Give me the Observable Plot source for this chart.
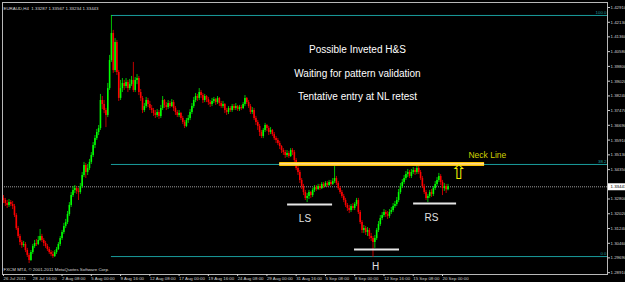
<!DOCTYPE html>
<html><head><meta charset="utf-8">
<script src="https://cdn.jsdelivr.net/npm/d3@7"></script>
<script src="https://cdn.jsdelivr.net/npm/@observablehq/plot@0.6"></script>
<style>html,body{margin:0;padding:0;background:#000;overflow:hidden}#chart svg{display:block}</style>
</head><body><div id="chart"></div>
<script>
// ---- data ----
const symbol = "EURAUD,H4";
const lastBar = {open: 1.33287, high: 1.33567, low: 1.33234, close: 1.33443};
const firstOpen = 1.3283;
const closes = [
1.3272,1.3256,1.3246,1.3261,1.3251,1.3240,1.3193,1.3124,1.3082,1.3050,
1.3034,1.3040,1.3008,1.2982,1.2955,1.2997,1.3029,1.3045,1.3040,1.3061,
1.3082,1.3061,1.3045,1.3029,1.3013,1.2997,1.2987,1.2976,1.2997,1.3013,
1.3040,1.3071,1.3103,1.3135,1.3156,1.3198,1.3246,1.3298,1.3325,1.3335,
1.3320,1.3314,1.3346,1.3404,1.3457,1.3420,1.3441,1.3473,1.3510,1.3562,
1.3599,1.3631,1.3652,1.3800,1.3779,1.3747,1.3721,1.3863,1.4011,1.4154,
1.3958,1.4106,1.3948,1.3811,1.3863,1.3890,1.3874,1.3895,1.3863,1.3884,
1.3906,1.3853,1.3906,1.3916,1.3842,1.3811,1.3747,1.3768,1.3800,1.3779,
1.3758,1.3747,1.3731,1.3721,1.3737,1.3716,1.3758,1.3800,1.3774,1.3763,
1.3784,1.3768,1.3789,1.3758,1.3737,1.3721,1.3731,1.3705,1.3684,1.3663,
1.3694,1.3705,1.3737,1.3768,1.3800,1.3821,1.3811,1.3842,1.3826,1.3800,
1.3821,1.3805,1.3789,1.3779,1.3795,1.3805,1.3789,1.3811,1.3784,1.3768,
1.3779,1.3747,1.3737,1.3758,1.3747,1.3768,1.3758,1.3768,1.3752,1.3763,
1.3758,1.3779,1.3811,1.3789,1.3768,1.3737,1.3747,1.3705,1.3684,1.3663,
1.3631,1.3610,1.3642,1.3668,1.3652,1.3631,1.3642,1.3620,1.3599,1.3589,
1.3573,1.3557,1.3536,1.3525,1.3510,1.3520,1.3504,1.3536,1.3525,1.3483,
1.3441,1.3420,1.3378,1.3346,1.3314,1.3283,1.3293,1.3314,1.3298,1.3325,
1.3341,1.3330,1.3346,1.3335,1.3357,1.3346,1.3362,1.3351,1.3367,1.3357,
1.3372,1.3388,1.3362,1.3335,1.3314,1.3293,1.3272,1.3246,1.3230,1.3219,
1.3240,1.3230,1.3251,1.3272,1.3209,1.3156,1.3114,1.3124,1.3103,1.3114,
1.3082,1.3071,1.3050,1.3071,1.3114,1.3145,1.3177,1.3193,1.3209,1.3198,
1.3188,1.3209,1.3219,1.3240,1.3251,1.3272,1.3314,1.3346,1.3367,1.3388,
1.3409,1.3420,1.3399,1.3420,1.3430,1.3420,1.3441,1.3420,1.3388,1.3346,
1.3314,1.3283,1.3293,1.3314,1.3304,1.3335,1.3357,1.3378,1.3399,1.3367,
1.3335,1.3346,1.3329,1.3344];
const highs = [
1.3298,1.3283,1.3272,1.3277,1.3272,1.3267,1.3251,1.3203,1.3135,1.3093,
1.3061,1.3056,1.3050,1.3019,1.2992,1.3008,1.3040,1.3061,1.3066,1.3082,
1.3119,1.3093,1.3071,1.3056,1.3040,1.3024,1.3008,1.3003,1.3008,1.3024,
1.3050,1.3082,1.3114,1.3151,1.3172,1.3214,1.3261,1.3314,1.3346,1.3351,
1.3346,1.3335,1.3362,1.3420,1.3473,1.3467,1.3462,1.3489,1.3525,1.3578,
1.3615,1.3647,1.3668,1.3832,1.3821,1.3800,1.3758,1.3890,1.4038,1.4249,
1.4170,1.4127,1.4117,1.3958,1.3906,1.3916,1.3906,1.3916,1.3906,1.3911,
1.3927,1.4001,1.3921,1.3937,1.3927,1.3858,1.3821,1.3784,1.3816,1.3811,
1.3795,1.3774,1.3758,1.3747,1.3752,1.3747,1.3774,1.3821,1.3805,1.3789,
1.3800,1.3795,1.3805,1.3800,1.3768,1.3747,1.3747,1.3737,1.3716,1.3694,
1.3705,1.3721,1.3752,1.3784,1.3816,1.3837,1.3832,1.3863,1.3853,1.3837,
1.3832,1.3826,1.3816,1.3800,1.3811,1.3816,1.3811,1.3821,1.3816,1.3795,
1.3795,1.3784,1.3758,1.3768,1.3768,1.3779,1.3779,1.3784,1.3774,1.3774,
1.3774,1.3789,1.3826,1.3816,1.3800,1.3779,1.3763,1.3758,1.3716,1.3694,
1.3673,1.3642,1.3652,1.3679,1.3673,1.3663,1.3657,1.3647,1.3631,1.3610,
1.3599,1.3584,1.3562,1.3546,1.3536,1.3536,1.3531,1.3546,1.3546,1.3536,
1.3494,1.3452,1.3430,1.3388,1.3357,1.3325,1.3309,1.3325,1.3320,1.3335,
1.3351,1.3351,1.3357,1.3357,1.3367,1.3367,1.3372,1.3372,1.3378,1.3378,
1.3388,1.3457,1.3399,1.3372,1.3346,1.3325,1.3304,1.3283,1.3256,1.3246,
1.3251,1.3256,1.3261,1.3283,1.3283,1.3219,1.3166,1.3140,1.3135,1.3129,
1.3124,1.3098,1.3082,1.3087,1.3124,1.3161,1.3193,1.3209,1.3224,1.3219,
1.3214,1.3224,1.3235,1.3256,1.3267,1.3288,1.3330,1.3362,1.3383,1.3404,
1.3425,1.3436,1.3430,1.3436,1.3446,1.3441,1.3467,1.3452,1.3430,1.3399,
1.3357,1.3325,1.3304,1.3325,1.3330,1.3346,1.3372,1.3393,1.3415,1.3409,
1.3378,1.3362,1.3357,1.3357];
const lows = [
1.3256,1.3240,1.3230,1.3235,1.3240,1.3224,1.3182,1.3114,1.3071,1.3034,
1.3019,1.3024,1.2997,1.2971,1.2939,1.2950,1.2987,1.3019,1.3029,1.3034,
1.3056,1.3050,1.3029,1.3019,1.3003,1.2987,1.2976,1.2966,1.2971,1.2987,
1.3008,1.3029,1.3061,1.3093,1.3124,1.3145,1.3188,1.3235,1.3288,1.3309,
1.3304,1.3272,1.3304,1.3335,1.3393,1.3388,1.3404,1.3430,1.3462,1.3499,
1.3546,1.3589,1.3615,1.3642,1.3752,1.3731,1.3657,1.3710,1.3853,1.4001,
1.3943,1.3948,1.3932,1.3795,1.3800,1.3842,1.3853,1.3863,1.3842,1.3853,
1.3874,1.3842,1.3842,1.3884,1.3826,1.3795,1.3731,1.3737,1.3758,1.3763,
1.3747,1.3731,1.3716,1.3705,1.3710,1.3700,1.3705,1.3747,1.3758,1.3747,
1.3752,1.3758,1.3763,1.3742,1.3721,1.3710,1.3710,1.3694,1.3673,1.3652,
1.3657,1.3679,1.3694,1.3726,1.3758,1.3789,1.3795,1.3800,1.3811,1.3784,
1.3789,1.3789,1.3774,1.3763,1.3768,1.3784,1.3774,1.3779,1.3768,1.3758,
1.3758,1.3731,1.3721,1.3726,1.3737,1.3737,1.3747,1.3747,1.3742,1.3742,
1.3747,1.3752,1.3768,1.3779,1.3758,1.3726,1.3726,1.3694,1.3668,1.3642,
1.3610,1.3599,1.3599,1.3631,1.3636,1.3615,1.3620,1.3610,1.3589,1.3573,
1.3562,1.3541,1.3520,1.3510,1.3494,1.3499,1.3494,1.3499,1.3510,1.3473,
1.3430,1.3404,1.3362,1.3330,1.3298,1.3272,1.3261,1.3277,1.3283,1.3288,
1.3314,1.3320,1.3325,1.3325,1.3330,1.3335,1.3341,1.3341,1.3346,1.3346,
1.3351,1.3362,1.3351,1.3325,1.3304,1.3283,1.3261,1.3235,1.3214,1.3203,
1.3209,1.3219,1.3219,1.3240,1.3198,1.3145,1.3098,1.3098,1.3087,1.3082,
1.3066,1.3056,1.2971,1.3019,1.3061,1.3103,1.3135,1.3166,1.3182,1.3182,
1.3172,1.3177,1.3198,1.3209,1.3230,1.3240,1.3261,1.3304,1.3335,1.3357,
1.3378,1.3393,1.3388,1.3388,1.3409,1.3404,1.3409,1.3409,1.3378,1.3335,
1.3304,1.3272,1.3261,1.3283,1.3288,1.3293,1.3325,1.3346,1.3367,1.3351,
1.3298,1.3320,1.3309,1.3323];
const timeLabels = ["26 Jul 2011","28 Jul 16:00","2 Aug 08:00","5 Aug 00:00","9 Aug 16:00","12 Aug 08:00","17 Aug 00:00","19 Aug 16:00","24 Aug 08:00","29 Aug 00:00","31 Aug 16:00","5 Sep 08:00","8 Sep 00:00","12 Sep 16:00","15 Sep 08:00","20 Sep 00:00"];
const barsPerLabel = 16;
const priceTicks = [1.42910,1.42130,1.41360,1.40580,1.39800,1.39020,1.38240,1.37470,1.36690,1.35910,1.35130,1.34350,1.32800,1.32020,1.31240,1.30460,1.29690,1.28910];
const fibHigh = 1.4249, fibLow = 1.2976, fibStartBar = 59;
const fibLevels = [0, 38.2, 100];
const neckline = {price: 1.3465, from: 151, to: 263};
const shoulderNames = ["LS", "H", "RS"];
const shoulderPrices = [1.3251, 1.3013, 1.3256];
const shoulderFrom = [155.3, 191.9, 224.2];
const shoulderTo = [179.9, 216.5, 247.7];
const shoulderLabelBar = [164.8, 203.4, 234];
const shoulderLabelPrice = [1.3177, 1.2924, 1.3182];
const neckLabel = {text: "Neck Line", bar: 254.2, price: 1.3510};
const arrowMark = {bar: 248.8, price: 1.3418};
const titleLines = ["Possible Inveted H&S", "Waiting for pattern validation", "Tentative entry at NL retest"];
const titlePrices = [1.4069, 1.3943, 1.3821];
const titleBar = 193.5;
const footer = "FXCM MT4, \u00a9 2001-2011 MetaQuotes Software Corp.";

// ---- build ----
const candles = closes.map((c, i) => ({i, open: i ? closes[i - 1] : firstOpen, close: c, high: highs[i], low: lows[i]}));
candles[candles.length - 1].open = lastBar.open;
candles[candles.length - 1].close = lastBar.close;
const up = "#00ff00", down = "#ff0000", teal = "#1a9c9c";
const xDomain = [-0.55, 330.2];
const fibPrice = l => fibLow + (fibHigh - fibLow) * l / 100;
const shoulders = shoulderNames.map((n, k) => ({name: n, price: shoulderPrices[k], from: shoulderFrom[k], to: shoulderTo[k], lb: shoulderLabelBar[k], lp: shoulderLabelPrice[k]}));
const titles = titleLines.map((t, k) => ({t, p: titlePrices[k]}));
const tickIdx = timeLabels.map((_, k) => k * barsPerLabel);
const tickMap = new Map(tickIdx.map((v, k) => [v, timeLabels[k]]));
const header = `${symbol}  ${lastBar.open.toFixed(5)} ${lastBar.high.toFixed(5)} ${lastBar.low.toFixed(5)} ${lastBar.close.toFixed(5)}`;
const col = d => d.close >= d.open ? up : down;
const small = 4.4;

const chart = Plot.plot({
  width: 625, height: 282,
  marginLeft: 2, marginRight: 18, marginTop: 2, marginBottom: 8,
  style: {background: "#000", color: "#d0d0d0", fontFamily: "'Liberation Sans', Arial, sans-serif"},
  x: {domain: xDomain},
  y: {domain: [1.28813, 1.43174]},
  color: {type: "identity"},
  marks: [
    Plot.ruleY(fibLevels, {y: fibPrice, x1: fibStartBar, x2: xDomain[1], stroke: teal, strokeWidth: 1}),
    Plot.text(fibLevels, {x: xDomain[1], y: fibPrice, text: l => l.toFixed(1), textAnchor: "end", dx: -1, dy: -3, fontSize: small, fill: teal}),
    Plot.ruleY([lastBar.close], {stroke: "#9a9a9a", strokeDasharray: "1,1"}),
    Plot.ruleX(candles, {x: "i", y1: "low", y2: "high", stroke: col, strokeWidth: 1, strokeOpacity: 0.75}),
    Plot.ruleX(candles, {x: "i", y1: "open", y2: "close", stroke: col, strokeWidth: 1.6}),
    Plot.ruleY([neckline], {y: "price", x1: "from", x2: "to", stroke: "#ffc400", strokeWidth: 4}),
    Plot.ruleY([neckline], {y: "price", x1: "from", x2: "to", stroke: "#ffe0b0", strokeWidth: 1.3}),
    Plot.ruleY(shoulders, {y: "price", x1: "from", x2: "to", stroke: "#e6e6e6", strokeWidth: 2}),
    Plot.text(shoulders, {x: "lb", y: "lp", text: "name", fill: "#e0e0e0", fontSize: 10}),
    Plot.text([neckLabel], {x: "bar", y: "price", text: "text", fill: "#d2d200", fontSize: 8.5, textAnchor: "start"}),
    Plot.text([arrowMark], {x: "bar", y: "price", text: () => "\u21e7", fill: "#f0f000", fontSize: 20, fontFamily: "DejaVu Sans"}),
    Plot.text(titles, {x: titleBar, y: "p", text: "t", fill: "#ffffff", fontSize: 10}),
    Plot.text([header], {frameAnchor: "top-left", dx: 1, dy: 4, textAnchor: "start", fontSize: small, fill: "#d8d8d8"}),
    Plot.text([footer], {frameAnchor: "bottom-left", dx: 1, dy: -4, textAnchor: "start", fontSize: small, fill: "#d8d8d8"}),
    Plot.frame({stroke: "#b8b8b8"}),
    Plot.axisX(tickIdx, {anchor: "bottom", tickSize: 2, tickPadding: 0.5, tickFormat: d => tickMap.get(d), textAnchor: "start", dx: 0, fontSize: small, color: "#d0d0d0", label: null}),
    Plot.axisY(priceTicks, {anchor: "right", tickSize: 2, tickPadding: 1, tickFormat: d3.format(".5f"), fontSize: small, color: "#d0d0d0", label: null}),
    Plot.ruleY([lastBar.close], {stroke: "#ffffff", strokeWidth: 7, dx: 606}),
    Plot.text([lastBar.close], {frameAnchor: "right", y: d => d, text: d => d.toFixed(5), dx: 3, textAnchor: "start", fontSize: small, fill: "#000"})
  ]
});
document.getElementById("chart").appendChild(chart);
</script>
</body></html>
